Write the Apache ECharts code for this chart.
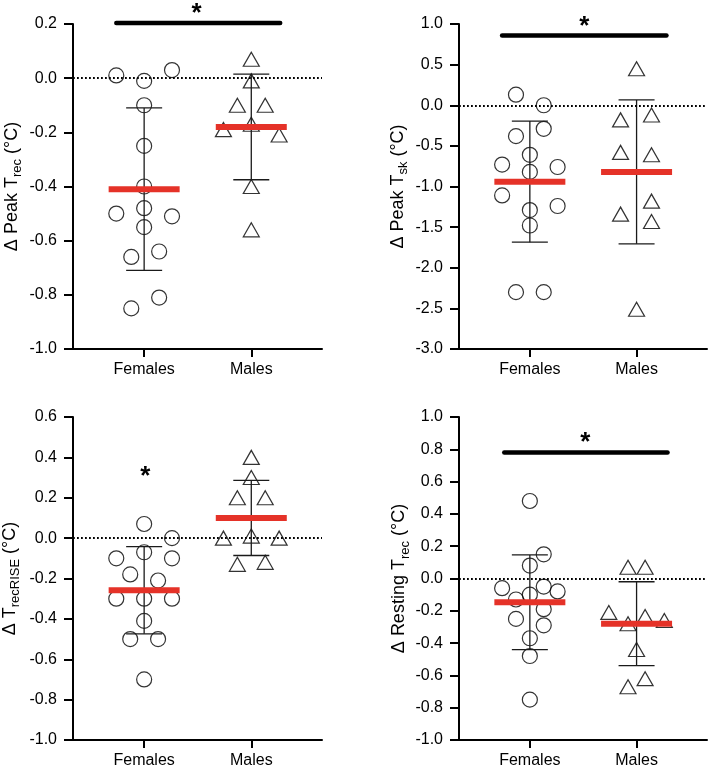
<!DOCTYPE html>
<html>
<head>
<meta charset="utf-8">
<script src="https://cdn.jsdelivr.net/npm/echarts@6/dist/echarts.min.js"></script>
<style>
html,body{margin:0;padding:0;background:#fff;}
#chart{width:709px;height:769px;}
</style>
</head>
<body>
<div id="chart"></div>
<script>
// ---------- DATA ----------
const categories = ['Females', 'Males'];

// Panel A: Δ Peak Trec (°C)
const peakTrecFemalesX = [0.74, 1.00, 1.26, 1.00, 1.00, 1.00, 0.74, 1.00, 1.26, 1.00, 0.88, 1.14, 1.14, 0.88];
const peakTrecFemalesY = [0.01, -0.01, 0.03, -0.10, -0.25, -0.40, -0.50, -0.48, -0.51, -0.55, -0.66, -0.64, -0.81, -0.85];
const peakTrecMalesX = [2.00, 2.00, 1.87, 2.13, 2.00, 1.74, 2.26, 2.00, 2.00];
const peakTrecMalesY = [0.07, -0.01, -0.10, -0.10, -0.17, -0.19, -0.21, -0.40, -0.56];
const peakTrecMean = [-0.41, -0.18];
const peakTrecSD = [0.30, 0.195];

// Panel B: Δ Peak Tsk (°C)
const peakTskFemalesX = [0.87, 1.13, 1.13, 0.87, 1.00, 0.74, 1.26, 1.00, 0.74, 1.26, 1.00, 1.00, 0.87, 1.13];
const peakTskFemalesY = [0.13, 0.00, -0.29, -0.38, -0.61, -0.73, -0.76, -0.82, -1.11, -1.24, -1.29, -1.48, -2.30, -2.30];
const peakTskMalesX = [2.00, 1.85, 2.14, 1.85, 2.14, 2.14, 1.85, 2.14, 2.00];
const peakTskMalesY = [0.45, -0.18, -0.12, -0.58, -0.61, -1.18, -1.34, -1.43, -2.51];
const peakTskMean = [-0.94, -0.82];
const peakTskSD = [0.745, 0.885];

// Panel C: Δ TrecRISE (°C)
const riseFemalesX = [1.00, 1.26, 0.74, 1.00, 1.26, 0.87, 1.13, 0.74, 1.00, 1.26, 1.00, 0.87, 1.13, 1.00];
const riseFemalesY = [0.07, 0.00, -0.10, -0.07, -0.10, -0.18, -0.21, -0.30, -0.30, -0.30, -0.41, -0.50, -0.50, -0.70];
const riseMalesX = [2.00, 2.00, 1.87, 2.13, 1.74, 2.00, 2.26, 1.87, 2.13];
const riseMalesY = [0.40, 0.30, 0.20, 0.20, 0.00, 0.01, 0.00, -0.13, -0.12];
const riseMean = [-0.258, 0.10];
const riseSD = [0.216, 0.186];

// Panel D: Δ Resting Trec (°C)
const restFemalesX = [1.00, 1.13, 1.00, 0.74, 1.13, 1.26, 1.00, 0.87, 1.13, 0.87, 1.13, 1.00, 1.00, 1.00];
const restFemalesY = [0.48, 0.15, 0.08, -0.06, -0.05, -0.08, -0.10, -0.13, -0.19, -0.25, -0.29, -0.37, -0.48, -0.75];
const restMalesX = [1.92, 2.08, 1.74, 1.92, 2.08, 2.26, 2.00, 1.92, 2.08];
const restMalesY = [0.07, 0.07, -0.21, -0.28, -0.235, -0.26, -0.44, -0.67, -0.62];
const restMean = [-0.147, -0.28];
const restSD = [0.293, 0.26];

// Significance annotations: bar [xStart, xEnd, y], asterisk [x, y]
const sigBarA = [0.74, 2.27, 0.204];
const starA = [1.49, 0.259];
const sigBarB = [0.74, 2.28, 0.86];
const starB = [1.51, 1.04];
const starC = [1.01, 0.333];
const sigBarD = [0.76, 2.29, 0.78];
const starD = [1.52, 0.875];

// Axis ranges / tick labels
const yRanges = [
  {min: -1.0, max: 0.2, interval: 0.2},
  {min: -3.0, max: 1.0, interval: 0.5},
  {min: -1.0, max: 0.6, interval: 0.2},
  {min: -1.0, max: 1.0, interval: 0.2}
];
const yTitles = [
  '{m|Δ Peak T}{s|rec}{m| (°C)}',
  '{m|Δ Peak T}{s|sk}{m| (°C)}',
  '{m|Δ T}{s|recRISE}{m| (°C)}',
  '{m|Δ Resting T}{s|rec}{m| (°C)}'
];

// ---------- BUILD ----------
const FONT = 'Liberation Sans, Arial, Helvetica, sans-serif';
const catPos = categories.map((c, i) => i + 1);

const grids = [
  {left: 73, top: 24, width: 249, height: 325},
  {left: 459, top: 24, width: 248, height: 325},
  {left: 73, top: 417, width: 249, height: 325},
  {left: 459, top: 417, width: 248, height: 325}
];
const nameGaps = [49, 49, 51, 47];

const xAxes = grids.map((g, i) => ({
  type: 'value', gridIndex: i, min: 0.336, max: 2.66,
  splitLine: {show: false},
  axisLine: {show: true, onZero: false, lineStyle: {color: '#000', width: 2}},
  axisTick: {show: true, customValues: catPos, length: 8, lineStyle: {color: '#000', width: 2}},
  axisLabel: {show: true, customValues: catPos, margin: 13, color: '#000', fontSize: 16, fontFamily: FONT,
    formatter: v => categories[Math.round(v) - 1] || ''}
}));

const yAxes = yRanges.map((r, i) => ({
  type: 'value', gridIndex: i, min: r.min, max: r.max, interval: r.interval,
  splitLine: {show: false},
  axisLine: {show: true, lineStyle: {color: '#000', width: 2}},
  axisTick: {show: true, length: 9, lineStyle: {color: '#000', width: 2}},
  axisLabel: {margin: 16, color: '#000', fontSize: 16, fontFamily: FONT,
    formatter: v => (Math.abs(v) < 1e-9 ? '0.0' : v.toFixed(1))},
  name: yTitles[i],
  nameLocation: 'middle', nameRotate: 90, nameGap: nameGaps[i],
  nameTextStyle: {
    rich: {
      m: {fontSize: 18, lineHeight: 24, color: '#000', fontFamily: FONT},
      s: {fontSize: 13, lineHeight: 13, verticalAlign: 'bottom', color: '#000', fontFamily: FONT}
    }
  }
}));

function zip(xs, ys) { return xs.map((x, i) => [x, ys[i]]); }

function renderErr(params, api) {
  const x = api.value(0), m = api.value(1), sd = api.value(2);
  const top = api.coord([x, m + sd]);
  const bot = api.coord([x, m - sd]);
  const st = {stroke: '#1a1a1a', lineWidth: 1.3};
  return {type: 'group', children: [
    {type: 'line', shape: {x1: top[0], y1: top[1], x2: bot[0], y2: bot[1]}, style: st},
    {type: 'line', shape: {x1: top[0] - 18, y1: top[1], x2: top[0] + 18, y2: top[1]}, style: st},
    {type: 'line', shape: {x1: bot[0] - 18, y1: bot[1], x2: bot[0] + 18, y2: bot[1]}, style: st}
  ]};
}
function renderMean(params, api) {
  const c = api.coord([api.value(0), api.value(1)]);
  return {type: 'rect', shape: {x: c[0] - 35.5, y: c[1] - 3, width: 71, height: 6}, style: {fill: '#e53228'}};
}
function renderSigBar(params, api) {
  const a = api.coord([api.value(0), api.value(2)]);
  const b = api.coord([api.value(1), api.value(2)]);
  return {type: 'line', shape: {x1: a[0], y1: a[1], x2: b[0], y2: b[1]},
    style: {stroke: '#000', lineWidth: 4.5, lineCap: 'round'}};
}
function renderStar(params, api) {
  const c = api.coord([api.value(0), api.value(1)]);
  return {type: 'text', x: c[0], y: c[1] + 6,
    style: {text: '*', fontSize: 26, fontWeight: 'bold', fontFamily: FONT, fill: '#000',
      align: 'center', verticalAlign: 'middle'}};
}

const panels = [
  {fx: peakTrecFemalesX, fy: peakTrecFemalesY, mx: peakTrecMalesX, my: peakTrecMalesY, mean: peakTrecMean, sd: peakTrecSD, bar: sigBarA, star: starA},
  {fx: peakTskFemalesX, fy: peakTskFemalesY, mx: peakTskMalesX, my: peakTskMalesY, mean: peakTskMean, sd: peakTskSD, bar: sigBarB, star: starB},
  {fx: riseFemalesX, fy: riseFemalesY, mx: riseMalesX, my: riseMalesY, mean: riseMean, sd: riseSD, bar: null, star: starC},
  {fx: restFemalesX, fy: restFemalesY, mx: restMalesX, my: restMalesY, mean: restMean, sd: restSD, bar: sigBarD, star: starD}
];

const series = [];
panels.forEach((p, i) => {
  series.push({
    type: 'scatter', xAxisIndex: i, yAxisIndex: i, symbol: 'circle', symbolSize: 15,
    data: zip(p.fx, p.fy), z: 2, silent: true,
    itemStyle: {color: 'rgba(0,0,0,0)', borderColor: '#000', borderWidth: 1.2},
    markLine: {silent: true, symbol: 'none', label: {show: false}, animation: false,
      lineStyle: {color: '#000', width: 1.8, type: [1.8, 2.2]}, data: [{yAxis: 0}]}
  });
  series.push({
    type: 'scatter', xAxisIndex: i, yAxisIndex: i, symbol: 'triangle', symbolSize: [16, 14],
    data: zip(p.mx, p.my), z: 2, silent: true,
    itemStyle: {color: 'rgba(0,0,0,0)', borderColor: '#000', borderWidth: 1.2}
  });
  series.push({
    type: 'custom', xAxisIndex: i, yAxisIndex: i, z: 3, silent: true, clip: false,
    renderItem: renderErr, data: catPos.map((x, k) => [x, p.mean[k], p.sd[k]])
  });
  series.push({
    type: 'custom', xAxisIndex: i, yAxisIndex: i, z: 4, silent: true, clip: false,
    renderItem: renderMean, data: catPos.map((x, k) => [x, p.mean[k]])
  });
  if (p.bar) {
    series.push({
      type: 'custom', xAxisIndex: i, yAxisIndex: i, z: 4, silent: true, clip: false,
      renderItem: renderSigBar, data: [p.bar]
    });
  }
  series.push({
    type: 'custom', xAxisIndex: i, yAxisIndex: i, z: 4, silent: true, clip: false,
    renderItem: renderStar, data: [p.star]
  });
});

const chart = echarts.init(document.getElementById('chart'), null, {renderer: 'canvas'});
chart.setOption({
  animation: false,
  backgroundColor: '#fff',
  grid: grids,
  xAxis: xAxes,
  yAxis: yAxes,
  series: series
});
</script>
</body>
</html>
